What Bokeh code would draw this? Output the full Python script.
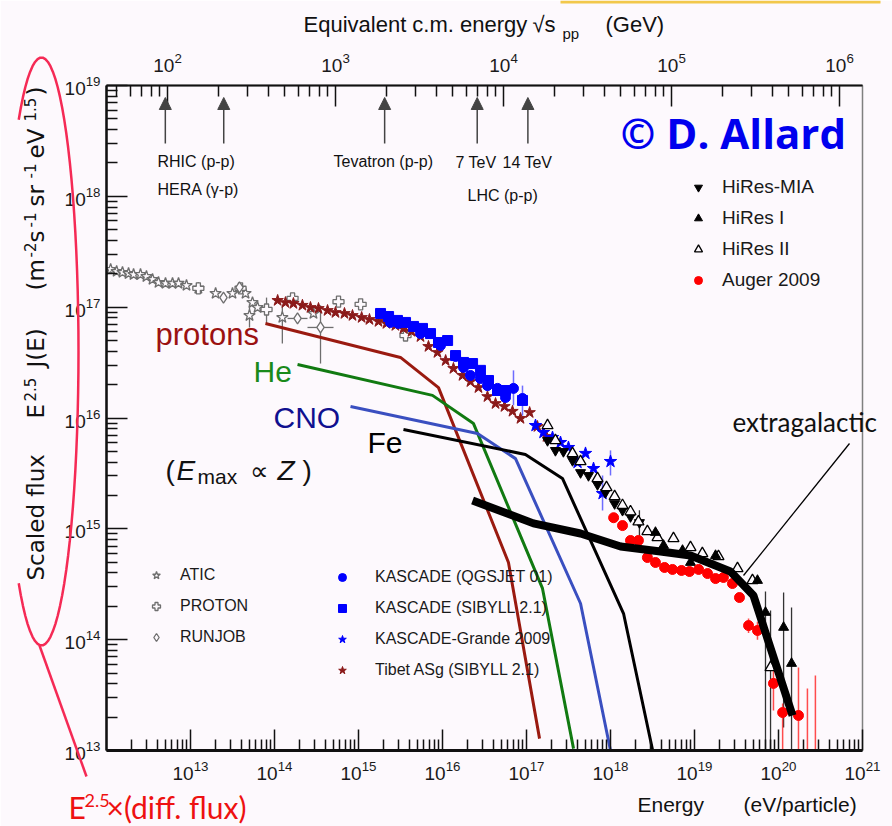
import math
from bokeh.plotting import figure
from bokeh.models import (Range1d, LogScale, LogAxis, FixedTicker, Label, Arrow,
                          NormalHead, Legend, LegendItem)
from bokeh.embed import file_html
from bokeh.resources import INLINE

# ---------------- data ----------------
# energy in eV ; scaled flux E^2.5 J(E) in m^-2 s^-1 sr^-1 eV^1.5
atic_e = [1.12e12, 1.32e12, 1.55e12, 1.83e12, 2.10e12, 2.54e12, 2.99e12, 3.53e12,
          4.16e12, 5.04e12, 6.11e12, 7.20e12, 8.96e12, 1.24e13, 1.99e13, 3.16e13,
          4.52e13, 5.47e13, 5.04e13, 6.28e13, 1.24e14, 2.91e14]
atic_f = [2.19e17, 2.10e17, 2.06e17, 2.01e17, 1.97e17, 1.97e17, 1.89e17, 1.78e17,
          1.67e17, 1.64e17, 1.64e17, 1.64e17, 1.57e17, 1.48e17, 1.33e17, 1.33e17,
          1.33e17, 1.10e17, 8.41e16, 9.93e16, 8.07e16, 8.77e16]
atic_err_e = [5.04e13, 1.24e14]
atic_err_lo = [6.56e16, 4.70e16]
atic_err_hi = [1.08e17, 1.04e17]

proton_e = [1.24e13, 3.94e13, 8.04e13, 1.64e14, 5.78e14, 1.06e15, 3.63e15]
proton_f = [1.48e17, 1.48e17, 9.53e16, 1.20e17, 1.12e17, 1.06e17, 5.55e16]
proton_err_e = [8.04e13]
proton_err_lo = [7.13e16]
proton_err_hi = [1.22e17]

runjob_e = [2.47e13, 3.83e13, 1.88e14, 3.53e14]
runjob_f = [1.22e17, 1.51e17, 7.91e16, 6.56e16]
runjob_verr_e = [3.53e14]
runjob_verr_lo = [3.10e16]
runjob_verr_hi = [1.04e17]
runjob_herr_f = [7.91e16, 6.56e16]
runjob_herr_lo = [1.43e14, 2.47e14]
runjob_herr_hi = [2.47e14, 5.04e14]

tibet_e = [1.09e14, 1.35e14, 1.68e14, 2.15e14, 2.68e14, 3.34e14, 4.28e14, 5.32e14,
           6.81e14, 8.48e14, 1.09e15, 1.35e15, 1.73e15, 2.15e15, 2.75e15, 3.43e15,
           4.28e15, 5.47e15, 6.81e15, 8.71e15, 1.09e16, 1.35e16, 1.73e16, 2.15e16,
           2.68e16, 3.43e16, 4.28e16, 5.47e16, 6.81e16, 8.48e16, 1.09e17, 1.35e17, 1.73e17]
tibet_f = [1.15e17, 1.10e17, 1.08e17, 1.04e17, 9.93e16, 9.73e16, 9.33e16, 8.95e16,
           8.77e16, 8.41e16, 8.07e16, 7.74e16, 7.43e16, 7.13e16, 6.84e16, 6.43e16,
           6.04e16, 5.43e16, 4.42e16, 3.90e16, 3.30e16, 2.80e16, 2.42e16, 2.13e16,
           1.88e16, 1.56e16, 1.35e16, 1.27e16, 1.15e16, 9.91e15, 1.12e16, 8.38e15, 6.81e15]

kq_e = [2.40e15, 2.99e15, 5.47e15, 9.46e15, 1.43e16, 1.78e16, 2.15e16, 2.83e16,
        3.43e16, 4.52e16, 5.62e16, 7.00e16, 8.96e16]
kq_f = [7.28e16, 7.13e16, 5.78e16, 4.51e16, 3.59e16, 2.86e16, 2.42e16, 2.27e16,
        1.96e16, 1.85e16, 1.53e16, 1.85e16, 1.50e16]
kq_err_e = [7.00e16, 8.96e16]
kq_err_lo = [1.30e16, 1.05e16]
kq_err_hi = [2.69e16, 1.96e16]

ks_e = [1.83e15, 2.28e15, 2.91e15, 3.63e15, 4.52e15, 5.78e15, 7.20e15, 8.96e15,
        1.15e16, 1.43e16, 1.78e16, 2.28e16, 2.83e16, 3.53e16, 4.52e16, 5.62e16, 8.96e16]
ks_f = [8.77e16, 8.24e16, 7.59e16, 7.28e16, 6.70e16, 6.43e16, 5.78e16, 4.80e16,
        5.00e16, 3.66e16, 3.17e16, 3.10e16, 2.69e16, 2.18e16, 1.77e16, 1.77e16, 1.44e16]

kg_e = [1.28e17, 1.59e17, 2.04e17, 2.54e17, 3.16e17, 4.05e17, 5.04e17, 6.28e17, 8.04e17, 1.00e18]
kg_f = [8.55e15, 7.40e15, 6.67e15, 6.01e15, 5.42e15, 3.97e15, 4.79e15, 3.50e15, 2.08e15, 4.05e15]
kg_err_e = [8.04e17, 1.00e18]
kg_err_lo = [1.46e15, 3.03e15]
kg_err_hi = [3.03e15, 5.10e15]

mia_e = [1.78e17, 2.21e17, 2.75e17, 3.53e17, 4.40e17, 5.47e17, 7.00e17, 8.71e17,
         1.12e18, 1.39e18, 1.73e18, 2.21e18]
mia_f = [6.27e15, 5.10e15, 4.99e15, 4.14e15, 3.22e15, 3.03e15, 2.51e15, 2.13e15,
         1.69e15, 1.47e15, 1.29e15, 1.14e15]

h1_e = [3.43e18, 4.28e18, 7.20e18, 8.96e18, 1.78e19, 5.62e19, 7.00e19, 1.15e20, 1.43e20]
h1_f = [9.27e14, 7.08e14, 6.38e14, 4.97e14, 5.74e14, 3.42e14, 1.76e14, 1.29e14, 6.10e13]

h2_e = [1.78e17, 2.21e17, 3.53e17, 4.40e17, 7.00e17, 8.96e17, 1.12e18, 1.39e18, 1.73e18,
        2.15e18, 2.75e18, 3.63e18, 5.62e18, 8.96e18, 1.24e19, 1.93e19, 3.25e19, 4.90e19, 8.04e19]
h2_f = [8.55e15, 6.27e15, 4.79e15, 4.05e15, 2.85e15, 2.36e15, 1.96e15, 1.63e15, 1.43e15,
        1.16e15, 9.46e14, 8.36e14, 8.18e14, 6.79e14, 6.00e14, 5.63e14, 4.39e14, 3.42e14, 5.61e13]

hires_err_e = [2.21e18, 7.00e19, 8.04e19, 1.15e20, 1.43e20]
hires_err_lo = [8.36e14, 1.0e13, 1.0e13, 1.61e13, 1.0e13]
hires_err_hi = [1.47e15, 2.72e14, 1.83e14, 2.67e14, 1.95e14]

auger_e = [1.09e18, 1.39e18, 1.73e18, 2.15e18, 2.75e18, 3.43e18, 4.40e18, 5.47e18,
           7.00e18, 8.71e18, 1.12e19, 1.43e19, 1.78e19, 2.21e19, 2.83e19, 3.43e19,
           4.40e19, 5.62e19, 8.71e19, 1.12e20, 1.73e20]
auger_f = [1.26e15, 1.07e15, 7.85e14, 7.85e14, 5.51e14, 4.97e14, 4.48e14, 4.30e14,
           4.21e14, 4.12e14, 4.30e14, 3.95e14, 3.56e14, 3.64e14, 3.21e14, 2.40e14,
           1.34e14, 1.21e14, 4.03e13, 2.20e13, 2.07e13]
auger_err_e = [4.40e19, 5.62e19, 8.71e19, 1.12e20, 1.73e20, 2.21e20, 2.75e20]
auger_err_lo = [1.15e14, 1.00e14, 2.30e13, 1.0e13, 1.0e13, 1.0e13, 1.0e13]
auger_err_hi = [1.55e14, 1.45e14, 5.61e13, 2.66e13, 5.61e13, 3.62e13, 4.75e13]

# model curves (Emax proportional to Z)
protons_e = [7.8e13, 3.16e15, 8.96e15, 6.1e16, 1.43e17]
protons_f = [7.13e16, 3.52e16, 1.88e16, 4.97e14, 1.28e13]
he_e = [1.88e14, 7.6e15, 2.34e16, 1.55e17, 3.63e17]
he_f = [3.04e16, 1.60e16, 8.9e15, 2.9e14, 1.04e13]
cno_e = [8.03e14, 2.61e16, 7.4e16, 4.4e17, 1.0e18]
cno_f = [1.27e16, 7.24e15, 4.3e15, 2.12e14, 1.0e13]
fe_e = [3.43e15, 9.7e16, 2.68e17, 1.43e18, 3.16e18]
fe_f = [7.87e15, 4.69e15, 2.85e15, 1.72e14, 1.02e13]
xgal_e = [2.28e16, 1.21e17, 4.4e17, 1.32e18, 3.94e18, 8.96e18, 2.68e19, 5.03e19, 1.47e20]
xgal_f = [1.80e15, 1.12e15, 9.08e14, 6.93e14, 6.25e14, 5.74e14, 4.12e14, 2.50e14, 2.07e13]

# collider energies on the top axis (sqrt(s), GeV)
collider_gev = [97, 216, 1960, 6970, 13960]

# axis ticks
x_major = [1e13, 1e14, 1e15, 1e16, 1e17, 1e18, 1e19, 1e20, 1e21]
y_major = [1e13, 1e14, 1e15, 1e16, 1e17, 1e18, 1e19]
top_major = [1e2, 1e3, 1e4, 1e5, 1e6]

# ---------------- layout / style ----------------
W, H = 892, 826
BG = "#fdf9fd"
ARIAL = "Liberation Sans"
GRAY = "#6e6e6e"
M_P = 0.938  # GeV
TOP_LO = math.sqrt(2 * M_P * 1e12 / 1e9)
TOP_HI = math.sqrt(2 * M_P * 1e21 / 1e9)

FX0, FX1, FY0, FY1 = 106, 862, 85, 750


def dy(py):
    return 10 ** (13 + (FY1 - py) * 6.0 / (FY1 - FY0))


p = figure(width=W, height=H, x_axis_type="log", y_axis_type="log", title=None,
           x_range=Range1d(1e12, 1e21), y_range=Range1d(1e13, 1e19),
           output_backend="svg", toolbar_location=None,
           min_border_left=FX0, min_border_right=W - FX1,
           min_border_top=FY0, min_border_bottom=H - FY1,
           background_fill_color=BG, border_fill_color=BG)
p.grid.visible = False
p.outline_line_color = "#808080"
p.outline_line_width = 1.5

p.extra_x_ranges = {"top": Range1d(TOP_LO, TOP_HI)}
p.extra_x_scales = {"top": LogScale()}
top_axis = LogAxis(x_range_name="top")
p.add_layout(top_axis, "above")


def minors(k0, k1):
    return [m * 10.0 ** k for k in range(k0, k1) for m in range(2, 10)]


def style_axis(ax, ticks, minor, standoff, lw):
    ax.ticker = FixedTicker(ticks=ticks, minor_ticks=minor)
    ax.major_tick_in = 21
    ax.major_tick_out = 0
    ax.minor_tick_in = 11
    ax.minor_tick_out = 0
    ax.axis_line_width = lw
    ax.major_tick_line_width = 1.5
    ax.minor_tick_line_width = 1.5
    ax.axis_line_color = "#111111"
    ax.major_tick_line_color = "#111111"
    ax.minor_tick_line_color = "#111111"
    ax.major_label_text_font = ARIAL
    ax.major_label_text_font_size = "19px"
    ax.major_label_text_color = "#1a1a1a"
    ax.major_label_standoff = standoff


style_axis(p.below[0], x_major, minors(12, 21), 10, 3)
style_axis(p.left[0], y_major, minors(13, 19), 6, 2.5)
style_axis(top_axis, top_major, minors(1, 6), 14, 2)

# ---------------- error bars ----------------
p.segment(atic_err_e, atic_err_lo, atic_err_e, atic_err_hi, line_color=GRAY, line_width=1.3)
p.segment(proton_err_e, proton_err_lo, proton_err_e, proton_err_hi, line_color=GRAY, line_width=1.3)
p.segment(runjob_verr_e, runjob_verr_lo, runjob_verr_e, runjob_verr_hi, line_color=GRAY, line_width=1.3)
p.segment(runjob_herr_lo, runjob_herr_f, runjob_herr_hi, runjob_herr_f, line_color=GRAY, line_width=1.3)
p.segment(kq_err_e, kq_err_lo, kq_err_e, kq_err_hi, line_color="#3030ff", line_width=1.5, line_alpha=0.7)
p.segment(kg_err_e, kg_err_lo, kg_err_e, kg_err_hi, line_color="#3030ff", line_width=1.5, line_alpha=0.7)
p.segment(hires_err_e, hires_err_lo, hires_err_e, hires_err_hi, line_color="#333333", line_width=1.3)
p.segment(auger_err_e, auger_err_lo, auger_err_e, auger_err_hi, line_color="#ff2020", line_width=1.5, line_alpha=0.8)

# ---------------- data points ----------------
r_atic = p.scatter(atic_e, atic_f, marker="star", size=12, fill_color=BG, line_color=GRAY, line_width=1.3)
r_proton = p.scatter(proton_e, proton_f, marker="plus", size=11, fill_color=BG, line_color=GRAY, line_width=1.3)
r_runjob = p.scatter(runjob_e, runjob_f, marker="diamond", size=11, fill_color=BG, line_color=GRAY, line_width=1.3)
r_tibet = p.scatter(tibet_e, tibet_f, marker="star", size=12, fill_color="#8b1a1a", line_color="#8b1a1a")
r_ks = p.scatter(ks_e, ks_f, marker="square", size=10, fill_color="#0000ff", line_color="#0000ff")
r_kq = p.scatter(kq_e, kq_f, marker="circle", size=10, fill_color="#0000ff", line_color="#0000ff")
r_kg = p.scatter(kg_e, kg_f, marker="star", size=13, fill_color="#0000ff", line_color="#0000ff")
r_mia = p.scatter(mia_e, mia_f, marker="inverted_triangle", size=10, fill_color="#000000", line_color="#000000")
r_h2 = p.scatter(h2_e, h2_f, marker="triangle", size=11, fill_color=BG, line_color="#000000", line_width=1.3)
r_h1 = p.scatter(h1_e, h1_f, marker="triangle", size=10, fill_color="#000000", line_color="#000000")
r_auger = p.scatter(auger_e, auger_f, marker="circle", size=10, fill_color="#ff0000", line_color="#ff0000")

# ---------------- model curves ----------------
p.line(protons_e, protons_f, line_color="#9a1a10", line_width=3)
p.line(he_e, he_f, line_color="#117a11", line_width=3)
p.line(cno_e, cno_f, line_color="#3a4fc0", line_width=3)
p.line(fe_e, fe_f, line_color="#000000", line_width=3)
p.line(xgal_e, xgal_f, line_color="#000000", line_width=8)


# ---------------- legends ----------------
def make_legend(items, loc, font_size, h, spacing, standoff):
    leg = Legend(items=[LegendItem(label=t, renderers=[r]) for t, r in items],
                 location=loc, padding=0, margin=0, spacing=spacing,
                 glyph_width=20, glyph_height=h, label_height=h,
                 label_standoff=standoff, background_fill_alpha=0,
                 border_line_alpha=0, label_text_font=ARIAL,
                 label_text_font_size=font_size, label_text_color="#1a1a1a")
    p.add_layout(leg)


make_legend([("ATIC", r_atic), ("PROTON", r_proton), ("RUNJOB", r_runjob)],
            (40, 102), "16px", 22, 9, 14)
make_legend([("KASCADE (QGSJET 01)", r_kq), ("KASCADE (SIBYLL 2.1)", r_ks),
             ("KASCADE-Grande 2009", r_kg), ("Tibet ASg (SIBYLL 2.1)", r_tibet)],
            (226, 69), "16px", 22, 9, 23)
make_legend([("HiRes-MIA", r_mia), ("HiRes I", r_h1), ("HiRes II", r_h2),
             ("Auger 2009", r_auger)],
            (582, 457), "19px", 26, 5, 14)

# collider arrows (x on the sqrt(s) axis)
for g in collider_gev:
    p.add_layout(Arrow(end=NormalHead(size=12, fill_color="#444444", line_color="#444444"),
                       x_start=g, x_end=g, y_start=dy(143), y_end=dy(97),
                       x_range_name="top", line_color="#444444", line_width=1.5))

# ---------------- transparent overlay for free text (page pixel coordinates) ----------------
ov = figure(width=W, height=H, title=None, x_range=Range1d(0, W), y_range=Range1d(H, 0),
            x_axis_location=None, y_axis_location=None, toolbar_location=None,
            output_backend="svg", min_border=0, background_fill_alpha=0,
            border_fill_alpha=0, outline_line_color=None)
ov.grid.visible = False
ov.styles = {"position": "absolute", "left": "0px", "top": "0px"}

# distance (in em) between the anchor Bokeh uses and the alphabetic baseline
BASE_K = {"Liberation Sans": 0.36, "DejaVu Sans": 0.35, "Lato": 0.39, "Open Sans": 0.39}


def lab(px, py, text, size, font=ARIAL, color="#111111", style="normal", angle=0.0):
    k = BASE_K.get(font, 0.36) * size
    x, y = (px, py - k) if angle == 0 else (px - k, py)
    ov.add_layout(Label(x=x, y=y, text=text, text_font=font,
                        text_font_size=f"{size}px", text_color=color,
                        text_font_style=style, text_align="left",
                        text_baseline="alphabetic", angle=angle))


# collider labels
lab(157, 167, "RHIC (p-p)", 16)
lab(157, 195, "HERA (\u03b3-p)", 16)
lab(333, 167, "Tevatron (p-p)", 16)
lab(455, 168, "7 TeV", 16)
lab(502, 168, "14 TeV", 16)
lab(467, 201, "LHC (p-p)", 16)

# axis titles
lab(303, 32, "Equivalent c.m. energy", 22)
lab(532, 32, "\u221as", 22)
lab(562, 38, "pp", 15)
lab(605, 32, "(GeV)", 22)
lab(637, 812, "Energy", 21)
lab(743, 812, "(eV/particle)", 21)

# rotated y title
R = math.pi / 2
YF = "DejaVu Sans"
lab(44, 580, "Scaled flux", 23, YF, angle=R)
lab(44, 418, "E", 23, YF, angle=R)
lab(35, 401, "2.5", 15, YF, angle=R)
lab(44, 367, "J(E)", 23, YF, angle=R)
lab(44, 290, "(m", 23, YF, angle=R)
lab(35, 257, "-2", 15, YF, angle=R)
lab(44, 242, "s", 23, YF, angle=R)
lab(35, 227, "-1", 15, YF, angle=R)
lab(44, 206, "sr", 23, YF, angle=R)
lab(35, 178, "-1", 15, YF, angle=R)
lab(44, 158, "eV", 23, YF, angle=R)
lab(35, 121, "1.5", 15, YF, angle=R)
lab(44, 95, ")", 23, YF, angle=R)

# overlay labels
lab(155, 345, "protons", 31, ARIAL, "#9b1111")
lab(253, 382, "He", 30, ARIAL, "#1a8a1a")
lab(273, 428, "CNO", 30, ARIAL, "#10108f")
lab(367, 453, "Fe", 30, ARIAL, "#000000")
lab(165, 480, "(", 28)
lab(176, 480, "E", 28, style="italic")
lab(197, 484, "max", 21)
lab(249, 480, "\u221d", 26)
lab(277, 480, "Z", 28, style="italic")
lab(302, 480, ")", 28)
lab(732, 432, "extragalactic", 26, "Lato")
lab(620, 148, "\u00a9 D. Allard", 42, "Open Sans", "#0000ee", style="bold")
lab(68, 818, "E", 30, "Lato", "#ee1111")
lab(84, 807, "2.5", 18, "Lato", "#ee1111")
lab(106, 818, "\u00d7(diff. flux)", 30, "Lato", "#ee1111")

# pointer for "extragalactic"
ov.line([743, 849], [575, 443], line_color="#000000", line_width=1.3)

# red ellipse around the y title and pointer to the red note
CX, CY, AX, BY = 41, 351, 37, 294
ex, ey = [], []
for i in range(128, -129, -4):
    t = math.radians(i)
    ex.append(CX + AX * math.cos(t))
    ey.append(CY - BY * math.sin(t))
ov.line(ex, ey, line_color="#f52a55", line_width=2.5)
ov.line([39, 86], [645, 776], line_color="#f52a55", line_width=2.5)

# thin yellow strip at the top edge of the reference picture
ov.quad(left=[560], right=[880], top=[0], bottom=[3], fill_color="#f2c84b", line_color=None)

open("out.html", "w").write(file_html([p, ov], INLINE))
